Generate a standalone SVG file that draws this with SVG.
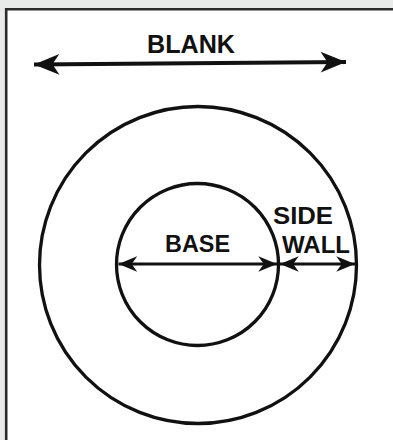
<svg xmlns="http://www.w3.org/2000/svg" width="393" height="440" viewBox="0 0 393 440">
<defs>
<style>
.ring{fill:none;stroke:#111;stroke-width:3.3}
.shaft{stroke:#111;fill:none}
.lbl{font-family:"Liberation Sans",Arial,sans-serif;font-weight:bold;fill:#111;text-anchor:middle}
</style>
<marker id="headL" markerUnits="userSpaceOnUse" markerWidth="30" markerHeight="30" viewBox="-24 -12 26 24" refX="0" refY="0" orient="auto-start-reverse">
<path d="M0,0 L-22,-9 L-16,0 L-22,9 Z" fill="#111"/>
</marker>
<marker id="headS" markerUnits="userSpaceOnUse" markerWidth="22" markerHeight="22" viewBox="-18 -9 20 18" refX="0" refY="0" orient="auto-start-reverse">
<path d="M0,0 L-17,-7 L-12,0 L-17,7 Z" fill="#111"/>
</marker>
</defs>
<rect x="0" y="0" width="393" height="440" fill="#e9ebea"/>
<rect x="6" y="9" width="400" height="440" fill="#fff"/>
<path d="M6.2,440 L6.2,9.2 L393,9.2" fill="none" stroke="#2b2b2b" stroke-width="2.6"/>
<g id="outer">
<circle class="ring" cx="198" cy="265" r="158.5"/>
</g>
<g id="inner">
<circle class="ring" cx="197.5" cy="264.5" r="81"/>
</g>
<g id="blank-label">
<text class="lbl" x="191" y="53" font-size="25" textLength="88" lengthAdjust="spacingAndGlyphs">BLANK</text>
</g>
<g id="base-label">
<text class="lbl" x="197.5" y="252" font-size="23.5" textLength="65" lengthAdjust="spacingAndGlyphs">BASE</text>
</g>
<g id="sidewall-label">
<text class="lbl" x="303" y="223.5" font-size="24" textLength="60" lengthAdjust="spacingAndGlyphs">SIDE</text>
<text class="lbl" x="316" y="252.5" font-size="24" textLength="68" lengthAdjust="spacingAndGlyphs">WALL</text>
</g>
<g id="connectors">
<line class="shaft" x1="34" y1="64.5" x2="346" y2="62" stroke-width="4" marker-start="url(#headL)" marker-end="url(#headL)"/>
<line class="shaft" x1="118.5" y1="264" x2="277" y2="264" stroke-width="3.2" marker-start="url(#headS)" marker-end="url(#headS)"/>
<line class="shaft" x1="280" y1="264" x2="355" y2="264" stroke-width="3.2" marker-start="url(#headS)" marker-end="url(#headS)"/>
</g>
</svg>
